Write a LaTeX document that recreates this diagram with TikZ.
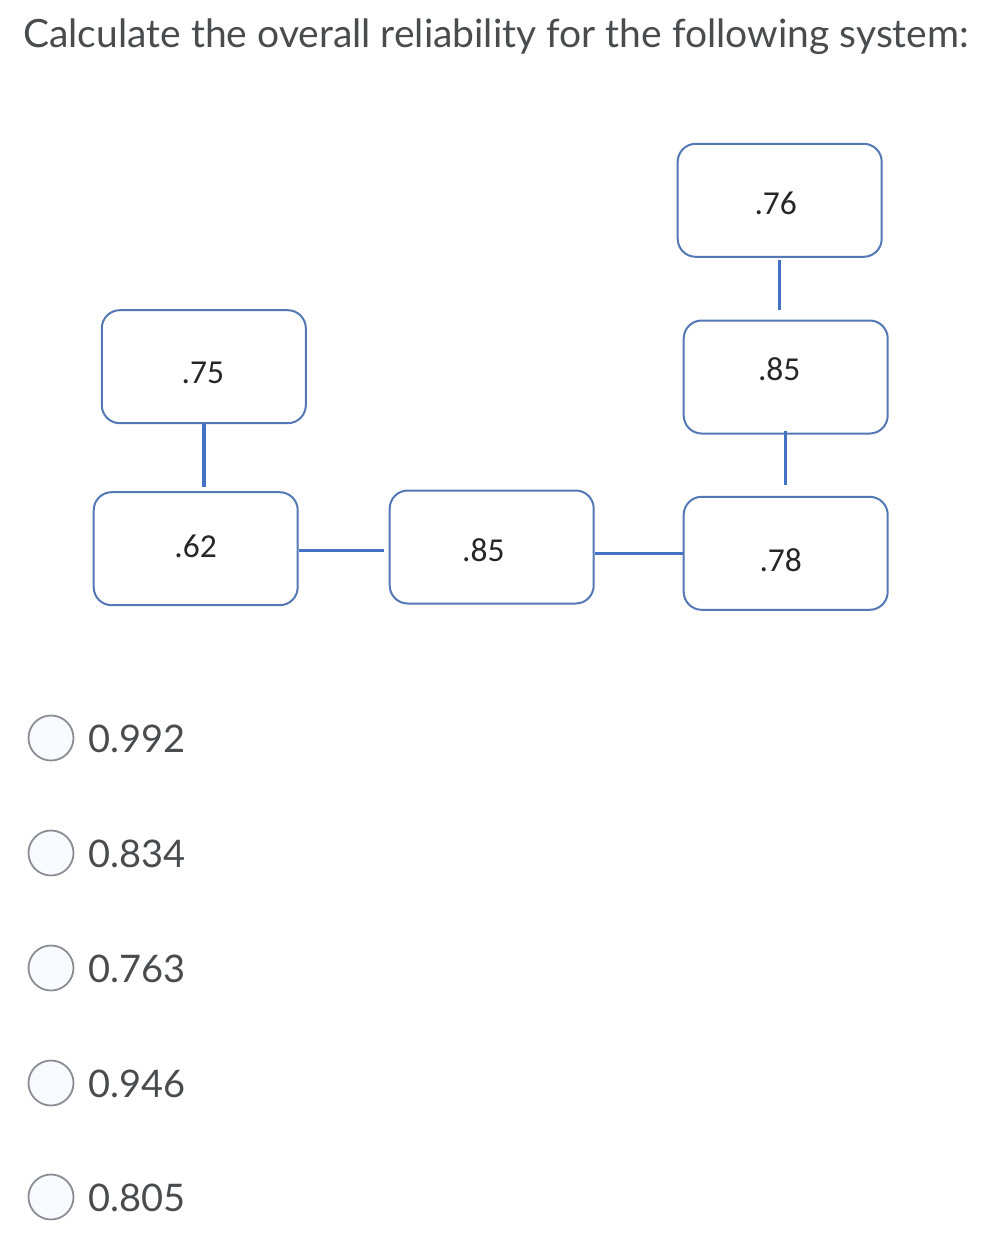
\documentclass[tikz,border=0pt]{standalone}
\usepackage{fontspec}
\setmainfont{Lato}
\newfontfamily\boxfont{Carlito}
\usetikzlibrary{positioning}

\definecolor{boxline}{HTML}{5477B5}
\definecolor{wire}{HTML}{4472C4}
\definecolor{qtext}{HTML}{494C4E}
\definecolor{radioline}{HTML}{8A8E92}
\definecolor{radiofill}{HTML}{F8FAFF}

\begin{document}
\begin{tikzpicture}[x=1pt,y=-1pt,
  block/.style={draw=boxline,line width=2pt,rounded corners=18pt,
    minimum width=204pt,minimum height=113pt,inner sep=0pt},
  tag/.style={inner sep=0pt,text=black!85,font=\boxfont\fontsize{33.5}{36}\selectfont},
  link/.style={draw=wire,line width=3.4pt},
  radio/.style={circle,draw=radioline,line width=1.8pt,fill=radiofill,
    minimum size=45pt,inner sep=0pt},
  answer/.style={anchor=base west,inner sep=0pt,text=qtext,
    font=\fontsize{38}{44}\selectfont}]

 \useasboundingbox (0,0) rectangle (1006,1244);

 \node[anchor=base west,inner sep=0pt,text=qtext,font=\fontsize{39}{46}\selectfont]
   (title) at (23,48) {Calculate the overall reliability for the following system:};

 % the blocks
 \node[block,label={[tag,xshift=-4pt,yshift=-3pt]center:.76}] (b76) at (779.7,200.3) {};
 \node[block,label={[tag,xshift=-1pt,yshift=-6.5pt]center:.75}] (b75) at (203.8,366.7) {};
 \node[block,label={[tag,xshift=-6.5pt,yshift=7.8pt]center:.85}] (b85r) at (785.7,377) {};
 \node[block,label={[tag,yshift=2pt]center:.62}] (b62) at (195.7,548.7) {};
 \node[block,label={[tag,xshift=-8.4pt,yshift=-3pt]center:.85}] (b85m) at (491.7,547) {};
 \node[block,label={[tag,xshift=-5pt,yshift=-6.7pt]center:.78}] (b78) at (785.7,553.3) {};

 % the wires
 \path[link] (b75.south) edge [shorten >=4pt] (b75.south |- b62.north);
 \path[link] ([yshift=-2pt]b62.east) edge [shorten >=5pt] ([yshift=-2pt]b62.east -| b85m.west);
 \path[link] (b85m.east |- b78.west) edge (b78.west);
 \path[link] (b76.south) edge [shorten <=2pt,shorten >=10pt] (b76.south |- b85r.north);
 \path[link] (b85r.south) edge [shorten <=-4pt,shorten >=11pt] (b78.north);

 % the answers
 \node[radio] (r1) at (51,738) {};
 \node[radio] (r2) at (51,853) {};
 \node[radio] (r3) at (51,968) {};
 \node[radio] (r4) at (51,1083) {};
 \node[radio] (r5) at (51,1197) {};
 \node[answer] (a1) at (88,752) {0.992};
 \node[answer] (a2) at (88,867) {0.834};
 \node[answer] (a3) at (88,982) {0.763};
 \node[answer] (a4) at (88,1097) {0.946};
 \node[answer] (a5) at (88,1211) {0.805};

\end{tikzpicture}
\end{document}
